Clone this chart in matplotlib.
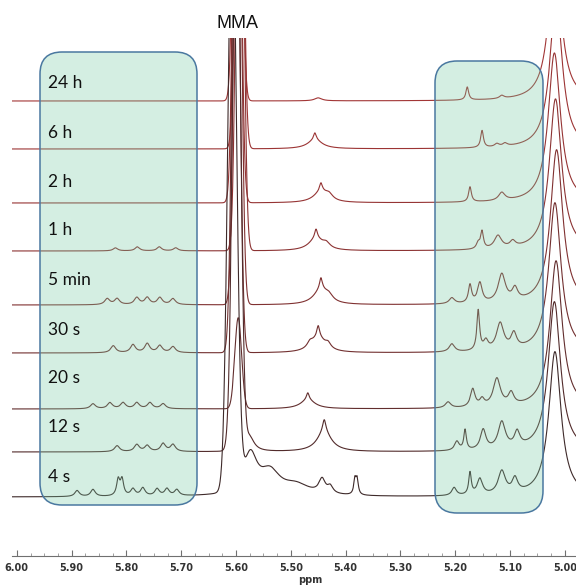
import numpy as np
import matplotlib.pyplot as plt
from matplotlib.patches import FancyBboxPatch
from matplotlib.ticker import MultipleLocator, FormatStrFormatter

# spectra, top to bottom
labels = ["24 h", "6 h", "2 h", "1 h", "5 min", "30 s", "20 s", "12 s", "4 s"]
offsets = [455, 407, 353, 305, 251, 203, 147, 104, 59]

# MMA vinyl peak (gaussian: ppm, height, sigma)
mma_ppm = [5.597, 5.594, 5.598, 5.593, 5.597, 5.600, 5.596, 5.599, 5.607]
mma_height = [600, 600, 600, 600, 600, 600, 91, 600, 600]
mma_sigma = [0.0062, 0.0062, 0.0062, 0.0062, 0.0062, 0.0064, 0.0062, 0.0070, 0.0078]

# big peak at the right edge (lorentzian)
right_ppm = [5.018, 5.016, 5.019, 5.017, 5.015, 5.018, 5.016, 5.019, 5.018]
right_height = [150, 150, 150, 152, 155, 150, 148, 150, 145]
right_width = 0.0135

# small peaks (ppm, height, half width)
peaks_24h = [(5.450, 3, 0.008), (5.178, 13, 0.003), (5.115, 3, 0.005)]
peaks_6h = [(5.456, 9, 0.016), (5.456, 7, 0.003), (5.151, 17, 0.003),
            (5.124, 3, 0.005), (5.109, 3, 0.005)]
peaks_2h = [(5.445, 11, 0.016), (5.445, 8, 0.003), (5.430, 5, 0.008),
            (5.173, 15, 0.003), (5.115, 8, 0.007)]
peaks_1h = [(5.820, 3, 0.005), (5.780, 4, 0.005), (5.740, 4, 0.005), (5.710, 3, 0.005),
            (5.454, 12, 0.016), (5.454, 9, 0.003), (5.435, 5, 0.008),
            (5.158, 6, 0.004), (5.151, 17, 0.003), (5.122, 13, 0.008), (5.095, 6, 0.006)]
peaks_5min = [(5.835, 6, 0.0055), (5.817, 6, 0.0055), (5.781, 7, 0.0055), (5.762, 7, 0.0055),
              (5.739, 7, 0.0055), (5.715, 6, 0.0055),
              (5.445, 15, 0.016), (5.445, 11, 0.003), (5.430, 5, 0.008),
              (5.206, 6, 0.006), (5.173, 18, 0.0035), (5.155, 20, 0.005),
              (5.115, 28, 0.008), (5.091, 12, 0.006)]
peaks_30s = [(5.824, 7, 0.0055), (5.788, 8, 0.0055), (5.762, 9, 0.0055), (5.739, 7, 0.0055),
             (5.715, 6, 0.0055),
             (5.450, 15, 0.016), (5.450, 11, 0.003), (5.465, 5, 0.006), (5.432, 5, 0.006),
             (5.206, 8, 0.006), (5.158, 40, 0.003), (5.144, 9, 0.005),
             (5.118, 27, 0.008), (5.093, 15, 0.006)]
peaks_20s = [(5.861, 5, 0.0055), (5.830, 6, 0.0055), (5.806, 6, 0.0055), (5.781, 6, 0.0055),
             (5.757, 6, 0.0055), (5.733, 5, 0.0055),
             (5.469, 9, 0.016), (5.469, 7, 0.003),
             (5.213, 6, 0.006), (5.168, 18, 0.005), (5.151, 7, 0.005),
             (5.124, 28, 0.008), (5.098, 12, 0.006)]
peaks_12s = [(5.817, 6, 0.0055), (5.781, 7, 0.0055), (5.762, 6, 0.0055), (5.733, 8, 0.0055),
             (5.715, 7, 0.0055), (5.575, 15, 0.010),
             (5.439, 20, 0.016), (5.439, 12, 0.0035),
             (5.197, 9, 0.005), (5.182, 20, 0.0028), (5.149, 20, 0.006),
             (5.115, 27, 0.008), (5.087, 15, 0.006)]
peaks_4s = [(5.890, 6, 0.005), (5.861, 7, 0.005), (5.815, 16, 0.0035), (5.808, 16, 0.0035),
            (5.788, 7, 0.005), (5.770, 8, 0.005), (5.744, 7, 0.005), (5.726, 7, 0.005),
            (5.708, 6, 0.005),
            (5.574, 40, 0.015), (5.538, 22, 0.022), (5.490, 10, 0.030),
            (5.443, 14, 0.007), (5.428, 7, 0.006), (5.383, 15, 0.0025), (5.379, 15, 0.0025),
            (5.202, 8, 0.005), (5.173, 22, 0.0028), (5.155, 16, 0.006),
            (5.115, 23, 0.008), (5.091, 14, 0.006)]
small_peaks = [peaks_24h, peaks_6h, peaks_2h, peaks_1h, peaks_5min,
               peaks_30s, peaks_20s, peaks_12s, peaks_4s]

colors = ["#a23636", "#9c3434", "#963434", "#8c3333", "#803131",
          "#723030", "#622e2e", "#522b2b", "#3e2a2a"]


def lorentz(x, c, h, w):
    return h * w**2 / ((x - c)**2 + w**2)


def gauss(x, c, h, s):
    return h * np.exp(-0.5 * ((x - c) / s)**2)


ppm = np.linspace(4.97, 6.02, 8000)

fig = plt.figure(figsize=(5.76, 5.85), dpi=100)
ax = fig.add_axes([12/576, (585-556)/585, 564/576, (556-38)/585])

for i in range(len(labels)):
    y = np.full_like(ppm, offsets[i], dtype=float)
    y += gauss(ppm, mma_ppm[i], mma_height[i], mma_sigma[i])
    y += lorentz(ppm, right_ppm[i], right_height[i], right_width)
    for c, h, w in small_peaks[i]:
        y += lorentz(ppm, c, h, w)
    ax.plot(ppm, y, color=colors[i], lw=0.8)

ax.set_xlim(6.0088, 4.9796)
ax.set_ylim(0, 518)
for s in ['top', 'right', 'left']:
    ax.spines[s].set_visible(False)
ax.spines['bottom'].set_color('#707070')
ax.set_yticks([])
ax.xaxis.set_major_locator(MultipleLocator(0.1))
ax.xaxis.set_minor_locator(MultipleLocator(0.025))
ax.xaxis.set_major_formatter(FormatStrFormatter('%.2f'))
ax.tick_params(axis='x', which='major', direction='in', length=4, color='#707070',
               labelsize=7, labelcolor='#333333', pad=5)
ax.tick_params(axis='x', which='minor', direction='in', length=2.5, color='#909090')
for t in ax.get_xticklabels():
    t.set_fontweight('bold')
ax.set_xlabel('ppm', fontsize=7, fontweight='bold', color='#333333')
ax.xaxis.set_label_coords(0.528, -0.037)

# overlay in pixel units for highlight boxes and labels
ov = fig.add_axes([0, 0, 1, 1])
ov.set_xlim(0, 576)
ov.set_ylim(585, 0)
ov.axis('off')
ov.patch.set_alpha(0)

box_face = (0.45, 0.79, 0.635, 0.3)
for bx, by, bw, bh in [(40, 52, 157, 453), (435, 61, 108, 452)]:
    ov.add_patch(FancyBboxPatch((bx, by), bw, bh,
                                boxstyle="round,pad=0,rounding_size=22",
                                facecolor=box_face, edgecolor='#4a78a0', lw=1.1))

label_y = [83, 133, 182, 230, 280, 330, 378, 427, 477]
for lab, ly in zip(labels, label_y):
    ov.text(48, ly, lab, ha='left', va='center', fontsize=12.5,
            family='Lato', color='#111111')

ov.text(238, 23, "MMA", ha='center', va='center', fontsize=13,
        family='Liberation Sans', color='#111111')

fig.savefig('out.png', dpi=100)
